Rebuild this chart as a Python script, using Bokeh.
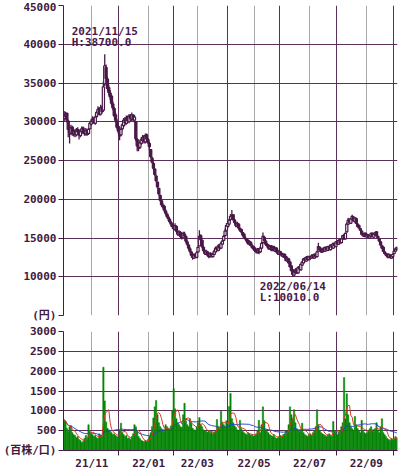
import numpy as np
import pandas as pd
from bokeh.plotting import figure
from bokeh.layouts import column
from bokeh.models import Range1d, FixedTicker, Grid, Label, ColumnDataSource
from bokeh.embed import file_html
from bokeh.resources import INLINE

# ---------------- data ----------------
# trading days per month, Oct 2021 .. early Oct 2022
month_days = [21, 20, 22, 18, 18, 22, 20, 19, 22, 20, 22, 20, 3]
month_names = ["21/10", "21/11", "21/12", "22/01", "22/02", "22/03", "22/04",
               "22/05", "22/06", "22/07", "22/08", "22/09", "22/10"]
labeled_months = ["21/11", "22/01", "22/03", "22/05", "22/07", "22/09"]

opens = [
    30400, 30700, 31100, 30100, 29100, 28500, 29300, 28400, 28900, 28300, 29000, 28800, 28200, 28700, 29200, 28700, 28400, 28900, 28500, 29100, 29700,
    30000, 30400, 29800, 30700, 31100, 31700, 31000, 31900, 31500, 34900, 37000, 35500, 34400, 33700, 33300, 32300, 31700, 30900, 30100, 29400,
    28700, 28300, 29100, 29500, 30300, 29800, 30600, 30000, 30800, 30300, 30800, 30200, 30000, 27700, 27000, 26700, 27200, 27600, 28100, 27400, 28300, 27700,
    27200, 26400, 25300, 24600, 23900, 23000, 22200, 21400, 20500, 19800, 19200, 19100, 18500, 18100, 17700, 17400, 17000, 16700,
    16400, 16100, 16500, 15800, 15400, 15700, 15300, 15100, 15500, 15200, 14500, 14100, 13600, 13200, 12900, 12400, 12900, 12500,
    13200, 14000, 15300, 14700, 13800, 13300, 12900, 13200, 12700, 12600, 13000, 12600, 12900, 13200, 13800, 13400, 14100, 13700, 14200, 14700, 15300, 16000,
    16500, 16800, 17400, 17700, 18000, 17300, 16900, 16500, 16800, 16200, 16100, 15700, 15500, 15000, 14800, 14700, 14200, 14400, 14000, 13900,
    13700, 13500, 13100, 13600, 13200, 13700, 14400, 15100, 14600, 14200, 14100, 13600, 14000, 13400, 13900, 13300, 13700, 13300, 12900,
    13200, 13000, 12600, 12900, 12600, 12000, 12300, 11900, 11400, 10900, 10200, 10500, 11000, 10500, 11300, 10900, 11500, 11800, 12400, 12000, 12600, 12200,
    12500, 12400, 12800, 12400, 12900, 12600, 13300, 13800, 13400, 13200, 13700, 13300, 13800, 13400, 13900, 13500, 14100, 13700, 14300, 13900,
    14400, 14200, 14800, 14400, 14900, 15400, 14900, 15800, 16800, 17400, 16900, 17400, 17700, 17100, 17500, 16800, 16600, 16200, 15900, 15500, 15200, 15600,
    15100, 15400, 15000, 15200, 15600, 15100, 15400, 15800, 15200, 14900, 14500, 14000, 13800, 13200, 13000, 12900, 12500, 12800, 12400, 12600,
    13000, 13300, 13500,
]
highs = [
    31400, 31300, 31200, 30300, 29400, 29600, 29500, 29100, 29000, 29200, 29300, 29000, 29000, 29400, 29400, 28900, 29200, 29100, 29200, 30100, 30400,
    30700, 30600, 30800, 31400, 32000, 31900, 32200, 32000, 35200, 38700, 37400, 35800, 34700, 34100, 33500, 32600, 31900, 31200, 30400, 29600,
    28900, 29300, 29800, 30500, 30600, 30800, 30800, 31000, 31000, 31200, 31000, 30900, 30100, 27900, 27200, 27600, 28000, 28300, 28300, 28500, 28500, 27900,
    27400, 26500, 25500, 24800, 24000, 23200, 22300, 21500, 20600, 20000, 19500, 19300, 18700, 18300, 18000, 17600, 17200, 16900,
    16600, 16900, 16600, 16000, 16000, 15900, 15500, 15800, 15800, 15300, 14700, 14200, 13800, 13300, 13000, 13000, 13000, 13300,
    14000, 16000, 15500, 14800, 14000, 13500, 13500, 13300, 12900, 13200, 13100, 13100, 13500, 13900, 13900, 14200, 14200, 14500, 14800, 15400, 16200, 16900,
    17200, 17500, 18100, 18600, 18100, 17500, 17100, 17100, 16900, 16400, 16200, 15800, 15600, 15200, 15000, 14800, 14700, 14600, 14200, 14000,
    13800, 13600, 13700, 13700, 13900, 14500, 15700, 15300, 14800, 14400, 14200, 14100, 14100, 14000, 14000, 13800, 13800, 13400, 13500,
    13300, 13100, 13000, 13000, 12700, 12500, 12400, 12000, 11500, 11000, 10800, 11100, 11100, 11300, 11400, 11700, 12000, 12400, 12500, 12600, 12700, 12700,
    12700, 12900, 12900, 13000, 13000, 13300, 14400, 13900, 13600, 13700, 13800, 13900, 13900, 14000, 14000, 14200, 14200, 14400, 14400, 14600,
    14600, 14800, 14900, 15000, 15400, 15500, 15700, 17000, 17600, 17500, 17600, 18000, 17800, 17700, 17600, 16900, 16700, 16300, 16000, 15600, 15700, 15700,
    15500, 15500, 15400, 15700, 15700, 15600, 15800, 15900, 15300, 15000, 14600, 14100, 13900, 13300, 13100, 13000, 13000, 12900, 12800, 13000,
    13400, 13800, 13900,
]
lows = [
    30000, 30400, 29900, 28000, 27200, 28300, 28200, 28100, 28000, 28100, 28500, 27700, 28000, 28500, 28400, 28200, 28200, 28200, 28300, 29000, 29500,
    29800, 29700, 29600, 30500, 30900, 30800, 30800, 31100, 31300, 34600, 35200, 34000, 33400, 32800, 32100, 31500, 30600, 29900, 29100, 28500,
    27600, 28100, 28900, 29300, 29600, 29600, 29900, 29800, 30100, 30100, 30100, 29900, 27500, 26200, 26200, 26500, 27000, 27400, 27200, 27200, 27600, 27100,
    26300, 25300, 24600, 23800, 23000, 22200, 21400, 20500, 19700, 19100, 18800, 18400, 18000, 17600, 17200, 16900, 16500, 16200,
    15900, 16000, 15700, 15300, 15300, 15000, 14800, 15000, 15100, 14400, 14000, 13500, 13100, 12600, 12200, 12300, 12400, 12400,
    13100, 13900, 14600, 13700, 13200, 12800, 12800, 12600, 12400, 12500, 12500, 12500, 12800, 13100, 13300, 13300, 13500, 13600, 14100, 14600, 15200, 15800,
    16300, 16600, 17200, 17500, 17200, 16800, 16400, 16400, 16100, 15800, 15600, 15200, 14900, 14700, 14400, 14100, 14000, 13900, 13600, 13400,
    13200, 13000, 13000, 12900, 13100, 13600, 14300, 14500, 14000, 13800, 13500, 13500, 13300, 13300, 13300, 13200, 13100, 12800, 12800,
    12800, 12600, 12500, 12400, 12000, 11900, 11700, 11200, 10700, 10010, 10100, 10400, 10400, 10400, 10800, 10800, 11400, 11700, 12000, 11900, 12100, 12100,
    12200, 12300, 12400, 12300, 12500, 12500, 13200, 13400, 13100, 13100, 13200, 13200, 13400, 13300, 13500, 13400, 13700, 13600, 13900, 13800,
    14100, 14100, 14300, 14300, 14800, 14800, 14800, 15700, 16700, 16900, 16800, 17300, 17100, 17000, 16800, 16400, 16200, 15900, 15400, 15200, 15100, 15100,
    15000, 15000, 14900, 15100, 15100, 15000, 15300, 15200, 14900, 14500, 14000, 13600, 13200, 12900, 12700, 12400, 12400, 12400, 12300, 12500,
    12900, 13200, 13400,
]
closes = [
    30800, 31000, 30200, 29000, 28600, 29200, 28500, 28800, 28400, 28900, 28700, 28300, 28800, 29100, 28600, 28500, 28900, 28400, 29000, 29800, 30100,
    30300, 29900, 30600, 31200, 31600, 31000, 31800, 31300, 34500, 37200, 35600, 34300, 33800, 33200, 32400, 31800, 30800, 30200, 29300, 28800,
    28200, 29000, 29600, 30200, 29900, 30500, 30100, 30700, 30400, 30900, 30300, 30600, 27800, 26900, 26600, 27300, 27700, 28000, 27500, 28200, 27800, 27300,
    26800, 25500, 24800, 24000, 23200, 22400, 21600, 20700, 19900, 19300, 19000, 18600, 18200, 17800, 17500, 17100, 16800, 16500,
    16200, 16600, 15900, 15500, 15800, 15200, 15000, 15600, 15300, 14600, 14200, 13700, 13300, 12800, 12500, 12800, 12600, 13100,
    13800, 15200, 14800, 13900, 13400, 13000, 13300, 12800, 12600, 13000, 12700, 12900, 13300, 13700, 13500, 14000, 13700, 14300, 14600, 15200, 15900, 16600,
    16900, 17300, 17800, 17900, 17400, 17000, 16600, 16900, 16300, 16000, 15800, 15400, 15100, 14900, 14600, 14300, 14500, 14100, 13800, 13600,
    13400, 13200, 13500, 13100, 13700, 14300, 15200, 14700, 14200, 14000, 13700, 13900, 13500, 13800, 13400, 13600, 13200, 13000, 13300,
    13000, 12700, 12900, 12500, 12100, 12400, 11800, 11300, 10800, 10300, 10600, 10900, 10500, 11200, 11000, 11600, 11900, 12300, 12100, 12500, 12200, 12600,
    12400, 12700, 12500, 12900, 12600, 13200, 13900, 13500, 13200, 13600, 13300, 13800, 13500, 13900, 13600, 14100, 13800, 14300, 14000, 14500,
    14200, 14700, 14400, 14900, 15300, 14900, 15600, 16800, 17300, 17000, 17500, 17800, 17200, 17600, 16900, 16500, 16300, 16000, 15500, 15300, 15600, 15200,
    15400, 15100, 15300, 15600, 15200, 15500, 15700, 15300, 15000, 14600, 14100, 13700, 13300, 13000, 12800, 12600, 12900, 12500, 12700, 12900,
    13300, 13600, 13700,
]
# volume, in hundreds of shares
volume = [
    770, 720, 560, 480, 600, 620, 450, 400, 380, 320, 350, 280, 250, 200, 230, 300, 380, 320, 650, 480, 420,
    400, 350, 380, 320, 300, 420, 380, 360, 2100, 1250, 720, 560, 520, 480, 450, 400, 420, 380, 350, 330,
    500, 690, 450, 400, 350, 380, 300, 320, 280, 350, 420, 650, 600, 480, 350, 300, 260, 240, 220, 250, 230, 280,
    350, 450, 600, 820, 1100, 1260, 900, 700, 600, 550, 520, 480, 650, 600, 550, 500, 620, 1000,
    1560, 1050, 800, 700, 650, 600, 580, 900, 1190, 750, 650, 600, 800, 700, 560, 520, 500, 600,
    700, 830, 650, 600, 520, 500, 480, 460, 500, 450, 480, 420, 460, 500, 780, 600, 550, 990, 700, 650, 600, 750,
    650, 1110, 1440, 800, 700, 620, 580, 520, 500, 760, 550, 480, 450, 420, 400, 450, 420, 380, 400, 360,
    380, 420, 500, 760, 450, 650, 1100, 750, 520, 480, 450, 400, 380, 350, 400, 330, 300, 320, 350,
    380, 350, 400, 420, 500, 480, 650, 1100, 900, 800, 1030, 700, 550, 500, 480, 520, 690, 450, 400, 380, 350, 400,
    420, 380, 450, 500, 600, 1030, 650, 500, 450, 420, 400, 380, 350, 400, 420, 380, 350, 730, 500, 450,
    400, 450, 500, 600, 700, 1840, 800, 1430, 900, 700, 600, 550, 500, 860, 650, 550, 500, 450, 760, 500, 450, 420,
    450, 500, 550, 600, 500, 480, 550, 700, 500, 450, 600, 800, 450, 400, 350, 300, 280, 250, 300, 280,
    300, 350, 320,
]
hi_date = "2021/11/15"
lo_date = "2022/06/14"
price_unit = "(円)"
vol_unit = "(百株/口)"
price_ticks = [5000, 10000, 15000, 20000, 25000, 30000, 35000, 40000, 45000]
vol_ticks = [0, 500, 1000, 1500, 2000, 2500, 3000]

n = sum(month_days)
assert len(opens) == len(highs) == len(lows) == len(closes) == len(volume) == n

# ---------------- styling ----------------
PURPLE = "#4a1848"
GRIDP = "#5c2f5a"
GRAY = "#a8a8a8"
GREEN = "#078507"
TXT = "#3d1a3d"
FONT = "DejaVu Sans Mono, Noto Sans CJK JP"

starts = np.cumsum([0] + month_days[:-1])
odd_ticks = [int(s) for s, m in zip(starts, month_names) if m in labeled_months]
even_ticks = [int(s) for s, m in zip(starts, month_names) if m not in labeled_months and s > 0]

xs = np.arange(n) + 0.5
o = np.array(opens); c = np.array(closes)
src = ColumnDataSource(dict(
    x=xs, high=highs, low=lows,
    top=np.maximum(o, c), bottom=np.minimum(o, c),
    fill=[("white" if cc >= oo else PURPLE) for oo, cc in zip(opens, closes)],
))


def style_yaxis(ax):
    ax.axis_line_color = PURPLE
    ax.major_tick_line_color = PURPLE
    ax.major_tick_out = 5
    ax.major_tick_in = 0
    ax.minor_tick_line_color = None
    ax.major_label_text_font = FONT
    ax.major_label_text_font_size = "11px"
    ax.major_label_text_font_style = "bold"
    ax.major_label_text_color = TXT
    ax.major_label_standoff = 2


def add_vgrids(p):
    p.xgrid.ticker = FixedTicker(ticks=odd_ticks)
    p.xgrid.grid_line_color = GRAY
    p.xgrid.grid_line_width = 1
    g2 = Grid(dimension=0, ticker=FixedTicker(ticks=even_ticks),
              grid_line_color=GRIDP, grid_line_width=1)
    p.add_layout(g2)


# ---------------- price chart ----------------
p1 = figure(width=400, height=322, x_range=Range1d(0, n), y_range=Range1d(5000, 45000),
            output_backend="svg", toolbar_location=None, x_axis_location=None,
            min_border_left=62, min_border_right=3, min_border_top=5, min_border_bottom=7)
p1.outline_line_color = None
p1.background_fill_color = "white"
p1.yaxis.ticker = FixedTicker(ticks=price_ticks)
p1.yaxis.major_label_overrides = {5000: price_unit}
style_yaxis(p1.yaxis[0])
p1.ygrid.ticker = FixedTicker(ticks=price_ticks)
p1.ygrid.grid_line_color = GRIDP
p1.ygrid.grid_line_width = 1
add_vgrids(p1)

p1.segment(x0="x", y0="low", x1="x", y1="high", source=src, line_color=PURPLE, line_width=1.3)
p1.vbar(x="x", width=1.6, top="top", bottom="bottom", source=src,
        fill_color="fill", line_color=PURPLE, line_width=1.2)

hi_i = int(np.argmax(highs)); lo_i = int(np.argmin(lows))
lab_kw = dict(text_font=FONT, text_font_size="11px", text_font_style="bold",
              text_color=PURPLE, x_offset=-33)
p1.add_layout(Label(x=hi_i + 0.5, y=highs[hi_i], y_offset=16, text=hi_date,
                    text_baseline="bottom", **lab_kw))
p1.add_layout(Label(x=hi_i + 0.5, y=highs[hi_i], y_offset=5, text=f"H:{highs[hi_i]:.1f}",
                    text_baseline="bottom", **lab_kw))
p1.add_layout(Label(x=lo_i + 0.5, y=lows[lo_i], y_offset=-3, text=lo_date,
                    text_baseline="top", **lab_kw))
p1.add_layout(Label(x=lo_i + 0.5, y=lows[lo_i], y_offset=-14, text=f"L:{lows[lo_i]:.1f}",
                    text_baseline="top", **lab_kw))

# ---------------- volume chart ----------------
vs = pd.Series(volume, dtype=float)
ma5 = vs.rolling(5, min_periods=1).mean()
ma25 = vs.rolling(25, min_periods=1).mean()
vsrc = ColumnDataSource(dict(x=xs, v=volume, ma5=ma5, ma25=ma25))

p2 = figure(width=400, height=151, x_range=p1.x_range, y_range=Range1d(0, 3000),
            output_backend="svg", toolbar_location=None,
            min_border_left=62, min_border_right=3, min_border_top=9, min_border_bottom=23)
p2.outline_line_color = None
p2.yaxis.ticker = FixedTicker(ticks=vol_ticks)
p2.yaxis.major_label_overrides = {0: vol_unit}
style_yaxis(p2.yaxis[0])
p2.ygrid.ticker = FixedTicker(ticks=vol_ticks)
p2.ygrid.grid_line_color = GRIDP
add_vgrids(p2)

xa = p2.xaxis[0]
xa.ticker = FixedTicker(ticks=odd_ticks, minor_ticks=even_ticks)
xa.major_label_overrides = {int(s): m for s, m in zip(starts, month_names)}
xa.axis_line_color = PURPLE
xa.major_tick_out = 0
xa.major_tick_in = 0
xa.minor_tick_out = 5
xa.minor_tick_in = 0
xa.minor_tick_line_color = PURPLE
xa.major_label_text_font = FONT
xa.major_label_text_font_size = "11px"
xa.major_label_text_font_style = "bold"
xa.major_label_text_color = TXT
xa.major_label_standoff = 1

p2.vbar(x="x", width=1.0, top="v", bottom=0, source=vsrc,
        fill_color=GREEN, line_color=GREEN, line_width=0.5)
p2.line(x="x", y="ma25", source=vsrc, line_color="#2244cc", line_width=1)
p2.line(x="x", y="ma5", source=vsrc, line_color="#d23c1e", line_width=1)

p = column(p1, p2, spacing=0)
open("out.html", "w").write(file_html(p, INLINE))
